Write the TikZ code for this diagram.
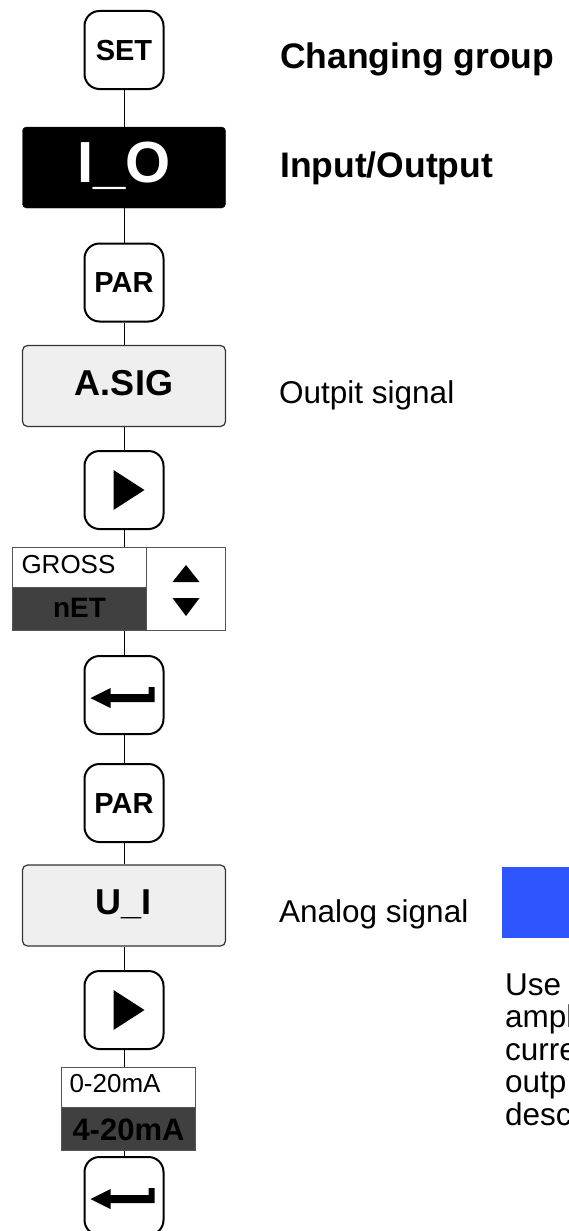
\documentclass[tikz,border=0pt]{standalone}
\usepackage{fontspec}
\setmainfont{Liberation Sans}
\definecolor{lightfill}{HTML}{EFEFEF}
\definecolor{darkfill}{HTML}{404040}
\definecolor{blueblock}{HTML}{2F55FF}
\definecolor{boxedge}{HTML}{333333}
\definecolor{celledge}{HTML}{555555}
\tikzset{
  keybox/.style={draw=black, line width=2pt, rounded corners=15pt, minimum width=79pt,
    minimum height=78pt, inner sep=0pt, text height=20.8pt, text depth=0pt,
    font=\fontsize{29}{29}\selectfont\bfseries},
  groupbox/.style={draw=black, fill=black, rounded corners=4pt, minimum width=203pt,
    minimum height=81pt, inner sep=0pt, text=white, text height=44pt, text depth=15pt,
    font=\fontsize{58}{58}\selectfont\bfseries},
  parbox/.style={draw=boxedge, line width=1.2pt, fill=lightfill, rounded corners=5pt,
    minimum width=203pt, minimum height=81pt, inner sep=0pt, text height=26pt, text depth=8pt,
    font=\fontsize{36}{36}\selectfont\bfseries},
  wcell/.style={draw=celledge, line width=1pt, fill=white, inner sep=0pt, anchor=north west},
  dcell/.style={draw=celledge, line width=1pt, fill=darkfill, inner sep=0pt, anchor=north west},
  conn/.style={draw=black, line width=1pt},
  heading/.style={anchor=base west, inner sep=0pt, font=\fontsize{35.5}{35.5}\selectfont\bfseries},
  plain/.style={anchor=base west, inner sep=0pt, font=\fontsize{31.5}{31.5}\selectfont},
}
\begin{document}
\begin{tikzpicture}[x=1pt, y=-1pt]
\useasboundingbox (0,0) rectangle (569,1231);
\clip (0,0) rectangle (569,1231);
\fill[white] (0,0) rectangle (569,1231);

% left column
\node[keybox] (set) at (124,50) {SET};
\node[groupbox] (io) at (124,167.5) {I\_O};
\node[keybox] (par1) at (124,282.5) {PAR};
\node[parbox] (asig) at (124,386) {A.SIG};
\node[keybox] (play1) at (124,490) {};
\node[wcell, minimum width=134pt, minimum height=40pt, text width=116pt, align=left,
  inner xsep=9pt, text height=18.7pt, text depth=6.7pt,
  font=\fontsize{26}{26}\selectfont] (gross) at (12,547) {GROSS};
\node[dcell, minimum width=134pt, minimum height=43pt, text height=20pt, text depth=3pt,
  font=\fontsize{28}{28}\selectfont\bfseries] (net) at (12,587) {nET};
\node[wcell, minimum width=79pt, minimum height=83pt] (updown) at (146,547) {};
\node[keybox] (enter1) at (124,695) {};
\node[keybox] (par2) at (124,803) {PAR};
\node[parbox] (ui) at (124,905.5) {U\_I};
\node[keybox] (play2) at (124,1010) {};
\node[wcell, minimum width=134pt, minimum height=40pt, text width=118pt, align=left,
  inner xsep=8pt, text height=18.7pt, text depth=8.7pt,
  font=\fontsize{26}{26}\selectfont] (ma0) at (61,1067) {0-20mA};
\node[dcell, minimum width=134pt, minimum height=43pt, text height=22.3pt, text depth=0pt,
  font=\fontsize{31}{31}\selectfont\bfseries] (ma4) at (61,1107) {4-20mA};
\node[keybox] (enter2) at (124,1196) {};

% icons
\fill[black] ([shift={(-10.5,-20)}]play1.center) -- ([shift={(20.5,0)}]play1.center)
  -- ([shift={(-10.5,20)}]play1.center) -- cycle;
\fill[black] ([shift={(-10.5,-20)}]play2.center) -- ([shift={(20.5,0)}]play2.center)
  -- ([shift={(-10.5,20)}]play2.center) -- cycle;
\fill[black] ([shift={(-13.5,0)}]updown.center) ++(0,-7) -- ++(13.5,-17) -- ++(13.5,17) -- cycle;
\fill[black] ([shift={(-13.5,0)}]updown.center) ++(0,9) -- ++(27,0) -- ++(-13.5,18) -- cycle;
\begin{scope}[shift={(enter1.center)}]
  \fill[black] (-33.5,3) -- (-13.5,-7) -- (-13.5,-1) -- (24.5,-1) -- (24.5,-8) -- (30.5,-8)
    -- (30.5,7) -- (-13.5,7) -- (-13.5,13) -- cycle;
\end{scope}
\begin{scope}[shift={(enter2.center)}]
  \fill[black] (-33.5,3) -- (-13.5,-7) -- (-13.5,-1) -- (24.5,-1) -- (24.5,-8) -- (30.5,-8)
    -- (30.5,7) -- (-13.5,7) -- (-13.5,13) -- cycle;
\end{scope}

% connectors
\draw[conn] (set.south) -- (io.north);
\draw[conn] (io.south) -- (par1.north);
\draw[conn] (par1.south) -- (asig.north);
\draw[conn] (asig.south) -- (play1.north);
\draw[conn] (play1.south) -- (play1.south |- gross.north);
\draw[conn] (enter1.north |- net.south) -- (enter1.north);
\draw[conn] (enter1.south) -- (par2.north);
\draw[conn] (par2.south) -- (ui.north);
\draw[conn] (ui.south) -- (play2.north);
\draw[conn] (play2.south) -- (play2.south |- ma0.north);
\draw[conn] (enter2.north |- ma4.south) -- (enter2.north);

% right column texts
\node[heading] (h1) at (280,68) {Changing group};
\node[heading] (h2) at (280,177) {Input/Output};
\node[plain] (t1) at (279,403) {Outpit signal};
\node[plain] (t2) at (279,922) {Analog signal};
\node[fill=blueblock, anchor=north west, inner sep=0pt, minimum width=80pt,
  minimum height=71pt] (blue) at (502,867) {};
\node[plain] (r1) at (505,995) {Use};
\node[plain] (r2) at (505,1027.5) {ampl};
\node[plain] (r3) at (505,1060) {curre};
\node[plain] (r4) at (505,1092.5) {outp};
\node[plain] (r5) at (505,1125) {desc};
\end{tikzpicture}
\end{document}
